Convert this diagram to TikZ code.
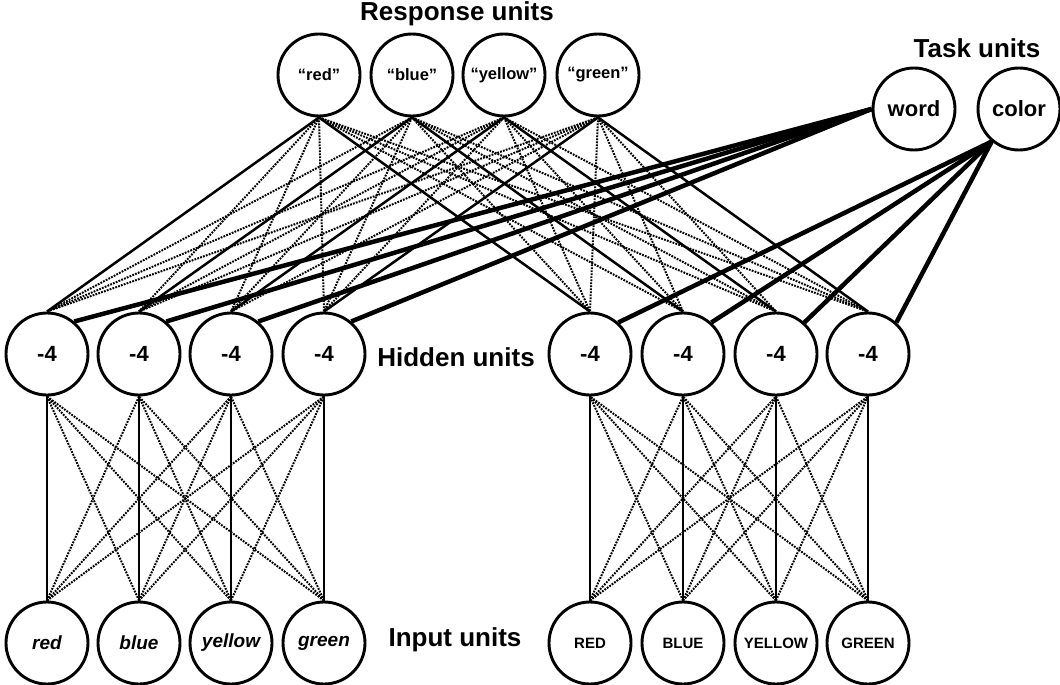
\documentclass[tikz,border=0pt]{standalone}
\usepackage{fontspec}
\setmainfont{Liberation Sans}
\begin{document}
\begin{tikzpicture}[x=1pt,y=-1pt,
  unit/.style={circle,draw,line width=2.9pt,minimum size=82pt,inner sep=0pt,fill=white},
  resp/.style={unit,font=\fontsize{16.5}{18}\selectfont\bfseries},
  hid/.style={unit,font=\fontsize{22}{24}\selectfont\bfseries},
  task/.style={unit,font=\fontsize{22}{24}\selectfont\bfseries},
  inw/.style={unit,font=\fontsize{19}{22}\selectfont\bfseries\itshape},
  inc/.style={unit,font=\fontsize{15}{18}\selectfont\bfseries},
  lbl/.style={font=\fontsize{26}{30}\selectfont\bfseries,inner sep=0pt},
  strong/.style={line width=2.5pt},
  weak/.style={line width=2pt,dash pattern=on 1.8pt off 1.2pt},
  taskline/.style={line width=4.5pt},
]
\useasboundingbox[fill=white] (0,0) rectangle (1060,685);

% labels
\node[lbl] (lresp) at (457,14) {Response units};
\node[lbl] (ltask) at (977,48) {Task units};
\node[lbl] (lhid) at (456,357) {Hidden units};
\node[lbl] (linp) at (455,640) {Input units};

% response units
\node[resp] (r1) at (319,75) {“red”};
\node[resp] (r2) at (412,75) {“blue”};
\node[resp] (r3) at (504,75) {“yellow”};
\node[resp] (r4) at (598,75) {“green”};

% task units
\node[task] (word) at (914,109) {word};
\node[task] (color) at (1019,109) {color};

% hidden units
\foreach \x [count=\i] in {47,139,231,324} \node[hid] (hl\i) at (\x,354) {-4};
\foreach \x [count=\i] in {590,683,776,868} \node[hid] (hr\i) at (\x,354) {-4};

% input units
\node[inw] (il1) at (47,643) {red};
\node[inw] (il2) at (139,643) {blue};
\node[inw] (il3) at (231,643) {yellow};
\node[inw] (il4) at (324,643) {green};
\node[inc] (ir1) at (590,643) {RED};
\node[inc] (ir2) at (683,643) {BLUE};
\node[inc] (ir3) at (776,643) {YELLOW};
\node[inc] (ir4) at (868,643) {GREEN};

% connections
\foreach \i in {1,...,4}{
  \foreach \j in {1,...,4}{
    \ifnum\i=\j\relax
      \draw[strong] (r\i.south) -- (hl\j.north);
      \draw[strong] (r\i.south) -- (hr\j.north);
      \draw[strong] (il\i.north) -- (hl\j.south);
      \draw[strong] (ir\i.north) -- (hr\j.south);
    \else
      \draw[weak] (r\i.south) -- (hl\j.north);
      \draw[weak] (r\i.south) -- (hr\j.north);
      \draw[weak] (il\i.north) -- (hl\j.south);
      \draw[weak] (ir\i.north) -- (hr\j.south);
    \fi
  }
  \draw[taskline] (word.west) -- (hl\i.50);
  \draw[taskline] (color.230) -- (hr\i.48);
}
\end{tikzpicture}
\end{document}
